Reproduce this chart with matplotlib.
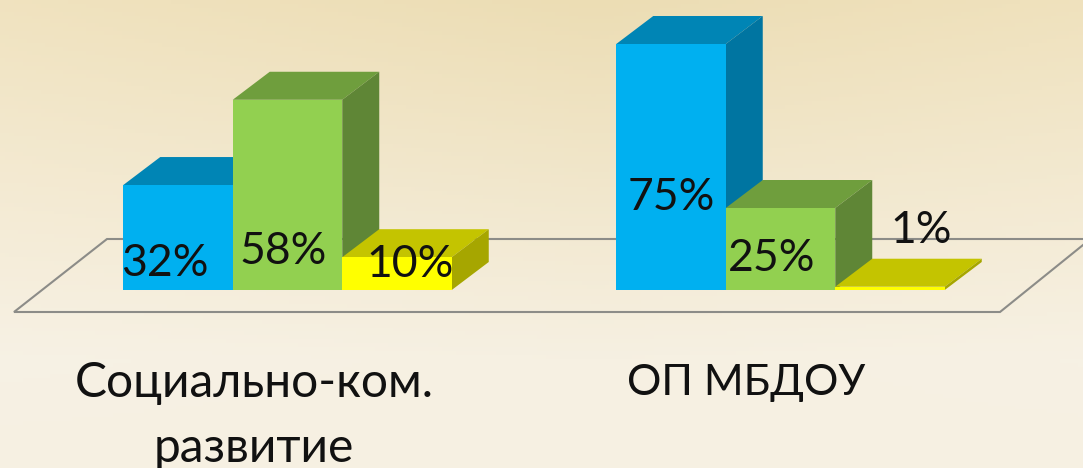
import numpy as np
import matplotlib
matplotlib.use("Agg")
import matplotlib.pyplot as plt
from matplotlib.patches import Polygon

categories = ["Социально-ком.\nразвитие", "ОП МБДОУ"]
blue_values = [32, 75]
green_values = [58, 25]
yellow_values = [10, 1]
labels = [["32%", "58%", "10%"], ["75%", "25%", "1%"]]

W, H = 1083, 468
px_per_unit_y = 3.28      # pixels per one percent
bar_width = 109.5         # pixels per bar
base_y = 290              # pixel row of the zero line
group_centers = [287.5, 780.5]
depth_x, depth_y = 37 / bar_width, 28 / px_per_unit_y

# front, top, side colours per series
colors = [("#00B0F0", "#0085B5", "#0075A1"),
          ("#92D050", "#6F9E3D", "#5F8636"),
          ("#FFFF00", "#C4C400", "#A6A600")]

# label places, in bar widths from the group center and in percent
label_x = [[-1.12, -0.04, 1.12], [-1.0, -0.08, 1.28]]
label_y = [[8.2, 11.6, 7.8], [28.2, 9.6, 18.2]]

plt.rcParams['font.family'] = ['Lato', 'DejaVu Sans']

fig = plt.figure(figsize=(W / 100, H / 100), dpi=100)
ax = fig.add_axes([0, 0, 1, 1])
ax.set_xlim(0, W / bar_width)
ax.set_ylim(-(H - base_y) / px_per_unit_y, base_y / px_per_unit_y)
ax.axis("off")

# background
top = np.array([236, 221, 180]) / 255
bottom = np.array([246, 240, 226]) / 255
yy, xx = np.mgrid[0:1:120j, 0:1:240j]
t = np.clip(yy * 1.3, 0, 1)[..., None]
side = (np.abs(xx - 0.55) * (1 - yy))[..., None] * np.array([0.03, 0.04, 0.08])
grad = np.clip(top * (1 - t) + bottom * t + side, 0, 1)
ax.imshow(grad, extent=[*ax.get_xlim(), *ax.get_ylim()], aspect="auto", origin="upper", zorder=0)

# floor
def fx(px):
    return px / bar_width

def fy(py):
    return (base_y - py) / px_per_unit_y

ax.plot([fx(1083), fx(107), fx(14), fx(1000), fx(1083)],
        [fy(239), fy(239), fy(312), fy(312), fy(245)],
        color="#8c8c88", lw=1.5, zorder=1, solid_joinstyle="miter")

series = [blue_values, green_values, yellow_values]
for g, center in enumerate(group_centers):
    c = fx(center)
    # back to front so that neighbours cover the side faces
    for s in range(3):
        v = series[s][g]
        left = c + (s - 1.5)
        front, top_col, side_col = colors[s]
        z = 2 + s
        ax.add_patch(Polygon([(left, v), (left + 1, v), (left + 1 + depth_x, v + depth_y), (left + depth_x, v + depth_y)],
                             color=top_col, lw=0, zorder=z))
        ax.add_patch(Polygon([(left + 1, 0), (left + 1 + depth_x, depth_y), (left + 1 + depth_x, v + depth_y), (left + 1, v)],
                             color=side_col, lw=0, zorder=z))
        ax.bar(left + 0.5, v, width=1, color=front, lw=0, zorder=z + 0.5)
        ax.text(c + label_x[g][s], label_y[g][s], labels[g][s], ha="center", va="center",
                fontsize=32, color="#111111", zorder=10)

# category names
name_size = [34.5, 31]
for g, name in enumerate(categories):
    lines = name.split("\n")
    cx = fx(254) if g == 0 else fx(746)
    ax.text(cx, fy(383), lines[0], ha="center", va="center", fontsize=name_size[g], color="#111111", zorder=10)
    if len(lines) > 1:
        ax.text(cx, fy(448), lines[1], ha="center", va="center", fontsize=name_size[g], color="#111111", zorder=10)

fig.savefig("out.png", dpi=100)
